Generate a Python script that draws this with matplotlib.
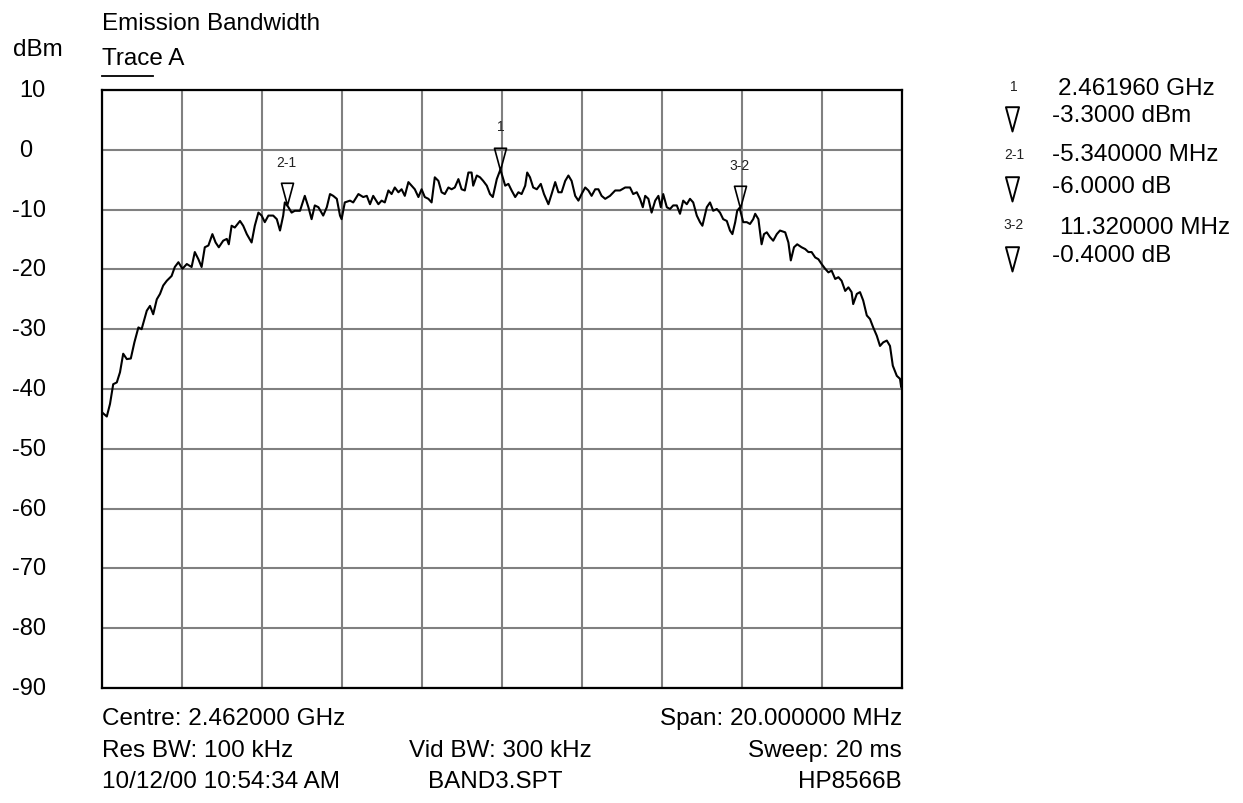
import matplotlib
matplotlib.use("Agg")
import matplotlib.pyplot as plt
from matplotlib.path import Path
from matplotlib.lines import Line2D
from matplotlib import font_manager
import matplotlib.transforms as mtransforms
import numpy as np

# ---------------- data ----------------
centre_ghz = 2.462000
span_mhz = 20.0

freq_offset_mhz = [
    -10.0, -9.88, -9.8, -9.72, -9.63, -9.55, -9.47, -9.38, -9.28, -9.19,
    -9.09, -9.01, -8.88, -8.8, -8.72, -8.63, -8.55, -8.47, -8.38, -8.26,
    -8.18, -8.09, -7.99, -7.88, -7.76, -7.68, -7.59, -7.51, -7.43, -7.34,
    -7.24, -7.16, -7.08, -6.97, -6.88, -6.83, -6.76, -6.68, -6.55, -6.47,
    -6.38, -6.26, -6.18, -6.09, -6.01, -5.93, -5.84, -5.72, -5.63, -5.55,
    -5.47, -5.43, -5.34, -5.26, -5.18,
    -5.05, -4.93, -4.84, -4.76, -4.68, -4.59, -4.47, -4.38, -4.3, -4.22,
    -4.13, -4.05, -4.01, -3.93, -3.8, -3.72, -3.59, -3.47, -3.38, -3.3,
    -3.22, -3.09, -3.01, -2.93, -2.84, -2.76, -2.68, -2.59, -2.51, -2.43,
    -2.34, -2.26, -2.18, -2.09, -2.01, -1.93, -1.84, -1.76, -1.68, -1.59,
    -1.51, -1.43, -1.34, -1.26, -1.18, -1.09, -1.01, -0.93, -0.84, -0.76,
    -0.72, -0.63, -0.55, -0.47, -0.38, -0.3, -0.23, -0.13, -0.04,
    0.08, 0.16, 0.24, 0.33, 0.41, 0.49, 0.58, 0.63, 0.7, 0.78,
    0.87, 0.97, 1.05, 1.16, 1.24, 1.33, 1.41, 1.49, 1.58, 1.66,
    1.74, 1.83, 1.91, 1.99, 2.08, 2.16, 2.24, 2.33, 2.41, 2.49,
    2.58, 2.7, 2.83, 2.95, 3.08, 3.2, 3.28, 3.37, 3.45, 3.52,
    3.58, 3.66, 3.74, 3.83, 3.91, 3.97, 4.03, 4.12, 4.2, 4.28,
    4.37, 4.45, 4.53, 4.62, 4.7, 4.78, 4.87, 4.95, 5.01,
    5.12, 5.2, 5.28, 5.37, 5.45, 5.53, 5.62, 5.7, 5.76, 5.83,
    5.88, 5.94, 6.03, 6.12, 6.2, 6.28, 6.33, 6.41, 6.49, 6.55,
    6.62, 6.7, 6.78, 6.87, 6.95, 7.08, 7.16, 7.22, 7.3, 7.38,
    7.49, 7.58, 7.66, 7.74, 7.83, 7.91, 7.99, 8.08, 8.16, 8.24,
    8.33, 8.41, 8.49, 8.58, 8.66, 8.74, 8.78, 8.87, 8.95, 9.03,
    9.12, 9.2, 9.28, 9.37, 9.45, 9.53, 9.62, 9.7, 9.77, 9.87,
    9.95, 9.98, 10.0,
]

level_dbm = [
    -43.9, -44.6, -42.5, -39.2, -38.9, -37.2, -34.1, -35.0, -34.9, -32.2,
    -29.7, -30.0, -26.9, -26.1, -27.5, -25.0, -24.1, -22.7, -21.9, -21.1,
    -19.6, -18.8, -19.9, -19.1, -19.6, -17.1, -18.3, -19.6, -16.3, -16.0,
    -14.1, -15.5, -16.3, -15.2, -14.9, -15.8, -12.7, -13.0, -11.9, -12.7,
    -14.1, -15.5, -12.7, -10.5, -11.0, -12.1, -11.0, -11.0, -11.6, -13.5,
    -11.0, -8.8, -9.6, -10.5, -10.2,
    -10.2, -7.7, -9.6, -11.6, -9.3, -9.6, -11.0, -9.6, -7.4, -7.7,
    -8.2, -11.0, -11.6, -8.8, -8.5, -8.8, -7.4, -7.9, -7.7, -9.1,
    -7.7, -9.1, -8.5, -8.8, -6.8, -7.4, -6.3, -7.1, -6.6, -7.7,
    -5.4, -6.0, -6.6, -7.9, -6.6, -7.9, -8.2, -8.8, -4.6, -5.2,
    -7.1, -7.4, -6.3, -6.6, -6.3, -4.9, -6.6, -6.8, -3.8, -3.8,
    -6.0, -4.3, -4.6, -5.2, -6.0, -7.4, -7.9, -4.9, -3.3,
    -6.0, -5.7, -6.8, -7.9, -7.1, -7.4, -6.0, -3.8, -4.6, -6.3,
    -6.6, -5.7, -7.4, -9.1, -7.4, -5.4, -7.1, -7.1, -5.2, -4.3,
    -5.2, -7.7, -8.5, -7.4, -6.3, -6.8, -7.7, -6.6, -6.6, -7.7,
    -8.2, -7.7, -6.8, -6.8, -6.3, -6.3, -7.4, -7.1, -8.2, -9.6,
    -7.7, -8.2, -10.5, -8.5, -7.7, -9.6, -7.4, -9.6, -9.9, -9.3,
    -9.3, -10.7, -8.5, -9.1, -8.2, -8.8, -11.0, -12.1, -12.7,
    -9.6, -8.8, -10.2, -9.9, -10.5, -11.6, -11.9, -13.5, -14.1, -12.1,
    -10.2, -9.7, -12.1, -12.1, -12.4, -11.6, -10.7, -11.6, -15.8, -14.1,
    -13.8, -14.6, -15.2, -14.1, -13.5, -13.8, -15.5, -18.5, -16.3, -15.8,
    -16.3, -16.6, -17.1, -17.1, -18.0, -18.3, -19.1, -19.9, -20.5, -20.2,
    -21.6, -21.3, -21.9, -23.6, -23.0, -23.8, -25.8, -24.1, -23.8, -25.2,
    -27.7, -28.3, -29.7, -31.1, -32.8, -32.2, -31.9, -32.8, -36.1, -37.8,
    -38.3, -39.7, -39.5,
]

y_ticks = [10, 0, -10, -20, -30, -40, -50, -60, -70, -80, -90]

# markers (as read out on the analyser)
m1_freq_ghz = 2.461960
m1_level_dbm = -3.3
m2_delta_mhz = -5.34
m2_delta_db = -6.0
m3_delta_mhz = 11.32
m3_delta_db = -0.4
marker_labels = ["1", "2-1", "3-2"]
readout_lines = [
    ("1", "2.461960 GHz", "-3.3000 dBm"),
    ("2-1", "-5.340000 MHz", "-6.0000 dB"),
    ("3-2", "11.320000 MHz", "-0.4000 dB"),
]

# ---------------- fonts ----------------
names = {f.name for f in font_manager.fontManager.ttflist}
MAIN = "Liberation Sans" if "Liberation Sans" in names else "DejaVu Sans"
if "Liberation Sans Narrow" in names:
    SMALL_FAM, SMALL_SIZE = "Liberation Sans Narrow", 11
else:
    SMALL_FAM, SMALL_SIZE = MAIN, 10
plt.rcParams["font.family"] = [MAIN, "DejaVu Sans"]

W, H = 1243, 804
fig = plt.figure(figsize=(W / 100, H / 100), dpi=100)
fig.patch.set_facecolor("white")


def fx(x):
    return x / W


def fy(y):
    return 1 - y / H


L, R, T, B = 102, 902, 91, 689
ax = fig.add_axes([fx(L), fy(B), (R - L) / W, (B - T) / H])

half = span_mhz / 2
ax.set_xlim(-half, half)
ax.set_ylim(-90, 10)
ax.set_xticks(np.arange(-half, half + 0.01, span_mhz / 10))
ax.set_yticks(y_ticks)
ax.tick_params(length=0, labelleft=False, labelbottom=False)
ax.grid(True, color="#808080", lw=1.5)
ax.set_axisbelow(True)
for s in ax.spines.values():
    s.set_color("black")
    s.set_linewidth(1.6)

ax.plot(freq_offset_mhz, level_dbm, color="black", lw=1.5, zorder=3)

# marker triangles
tri_path = Path([(-0.27, 1.0), (0.27, 1.0), (0.0, 0.0), (-0.27, 1.0)],
                [Path.MOVETO, Path.LINETO, Path.LINETO, Path.CLOSEPOLY])
m1_off = (m1_freq_ghz - centre_ghz) * 1000
m2_off = m1_off + m2_delta_mhz
m2_lvl = m1_level_dbm + m2_delta_db
m3_off = m2_off + m3_delta_mhz
m3_lvl = m2_lvl + m3_delta_db
mk_x = [m1_off, m2_off, m3_off]
mk_y = [m1_level_dbm, m2_lvl, m3_lvl]
ax.plot(mk_x, mk_y, ls="none", marker=tri_path, ms=32, mfc="none",
        mec="black", mew=1.2, zorder=4, clip_on=False)
for lab, x, y in zip(marker_labels, mk_x, mk_y):
    ax.annotate(lab, xy=(x, y), xytext=(0, 31), textcoords="offset points",
                ha="center", va="center", family=SMALL_FAM, fontsize=SMALL_SIZE,
                color="#222222")

# y tick labels
blend = mtransforms.blended_transform_factory(fig.transFigure, ax.transData)
for v in y_ticks:
    xl = 12 if v < 0 else 19
    ax.text(fx(xl), v, str(v), transform=blend, ha="left", va="center",
            fontsize=17, color="black", clip_on=False)

FS = 17.5
# header texts
fig.text(fx(102), fy(24), "Emission Bandwidth", ha="left", va="center", fontsize=FS)
fig.text(fx(13), fy(50), "dBm", ha="left", va="center", fontsize=FS)
fig.text(fx(102), fy(59), "Trace A", ha="left", va="center", fontsize=FS)
fig.add_artist(Line2D([fx(102), fx(153)], [fy(77), fy(77)], color="black", lw=1.3,
                      transform=fig.transFigure))

# readout block on the right
small_y = [87, 155, 225]
val_y = [(89, 116), (155, 187), (228, 256)]
val_x = [(1058, 1052), (1052, 1052), (1060, 1052)]
tri_tip = [132, 202, 272]
for (lab, v1, v2), sy, (y1, y2), (x1, x2), tt in zip(readout_lines, small_y, val_y, val_x, tri_tip):
    fig.text(fx(1014), fy(sy), lab, ha="center", va="center", family=SMALL_FAM,
             fontsize=SMALL_SIZE, color="#222222")
    fig.text(fx(x1), fy(y1), v1, ha="left", va="center", fontsize=FS)
    fig.text(fx(x2), fy(y2), v2, ha="left", va="center", fontsize=FS)
    fig.add_artist(Line2D([fx(1012)], [fy(tt)], transform=fig.transFigure,
                          ls="none", marker=tri_path, ms=35, mfc="none",
                          mec="black", mew=1.4))

# footer texts
fs = 17.5
fig.text(fx(102), fy(719), "Centre: %.6f GHz" % centre_ghz, ha="left", va="center", fontsize=fs)
fig.text(fx(902), fy(719), "Span: %.6f MHz" % span_mhz, ha="right", va="center", fontsize=fs)
fig.text(fx(102), fy(751), "Res BW: 100 kHz", ha="left", va="center", fontsize=fs)
fig.text(fx(500), fy(751), "Vid BW: 300 kHz", ha="center", va="center", fontsize=fs)
fig.text(fx(902), fy(751), "Sweep: 20 ms", ha="right", va="center", fontsize=fs)
fig.text(fx(102), fy(782), "10/12/00 10:54:34 AM", ha="left", va="center", fontsize=fs)
fig.text(fx(495), fy(782), "BAND3.SPT", ha="center", va="center", fontsize=fs)
fig.text(fx(902), fy(782), "HP8566B", ha="right", va="center", fontsize=fs)

fig.savefig("out.png", dpi=100, facecolor="white")
